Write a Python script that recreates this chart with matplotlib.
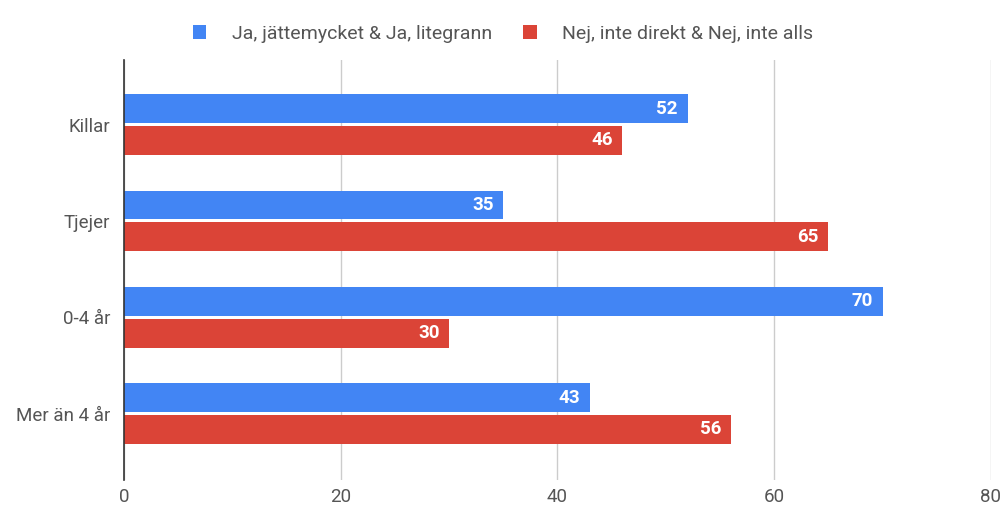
import numpy as np
import matplotlib.pyplot as plt

plt.rcParams['font.family'] = ['Roboto', 'DejaVu Sans']

categories = ['Killar', 'Tjejer', '0-4 år', 'Mer än 4 år']
ja_values = [52, 35, 70, 43]
nej_values = [46, 65, 30, 56]
series_names = ['Ja, jättemycket & Ja, litegrann', 'Nej, inte direkt & Nej, inte alls']
x_ticks = [0, 20, 40, 60, 80]

blue = '#4285F4'
red = '#DB4437'

fig = plt.figure(figsize=(10.06, 5.07), dpi=100)
ax = fig.add_axes([0.1233, 0.0533, 0.985 - 0.1233, 0.8817 - 0.0533])

y = np.arange(len(categories))
h = 0.3
off = 0.165
bars_ja = ax.barh(y - off, ja_values, height=h, color=blue, label=series_names[0], zorder=3)
bars_nej = ax.barh(y + off, nej_values, height=h, color=red, label=series_names[1], zorder=3)

for bars, vals in [(bars_ja, ja_values), (bars_nej, nej_values)]:
    for b, v in zip(bars, vals):
        ax.annotate(str(v), (v, b.get_y() + b.get_height() / 2),
                    xytext=(-7, 0), textcoords='offset points',
                    ha='right', va='center', color='white',
                    fontsize=13.5, fontweight='bold', zorder=4)

ax.set_xlim(0, 80)
ax.set_ylim(3.69, -0.67)
ax.set_xticks(x_ticks)
ax.set_yticks(y)
ax.set_yticklabels(categories)
ax.tick_params(axis='both', length=0, labelsize=13.5, colors='#555555')
ax.tick_params(axis='x', pad=6)
ax.tick_params(axis='y', pad=10)
ax.grid(axis='x', color='#cccccc', linewidth=1, zorder=0)
for s in ['top', 'right', 'bottom']:
    ax.spines[s].set_visible(False)
ax.spines['left'].set_color('#333333')
ax.spines['left'].set_linewidth(1.2)
ax.spines['left'].set_zorder(5)

fig.legend(loc='upper center', bbox_to_anchor=(0.5, 0.985), ncol=2, frameon=False,
           fontsize=14, labelcolor='#555555', handlelength=0.7, handleheight=0.7,
           columnspacing=1.6, handletextpad=1.3)

fig.savefig('out.png', dpi=100)
